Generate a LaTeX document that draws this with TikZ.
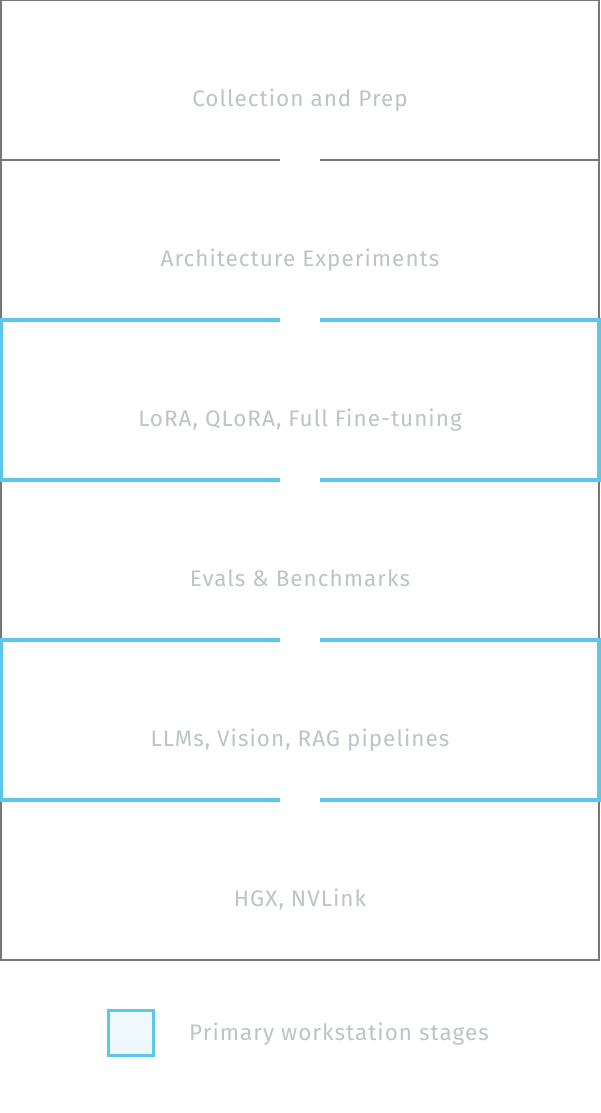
\documentclass[tikz,border=0pt]{standalone}
\usepackage{fontspec}
\setmainfont{Fira Sans}[LetterSpace=4.5]
\usetikzlibrary{positioning}
\definecolor{framegray}{RGB}{119,119,119}
\definecolor{stageblue}{RGB}{91,200,232}
\definecolor{labelgray}{RGB}{190,195,199}
\definecolor{legendfill}{RGB}{238,248,253}
\begin{document}
\begin{tikzpicture} [x=1pt, y=-1pt,
            stage_style/.style={rectangle, draw=framegray, line width=2pt, minimum width=598pt, minimum height=160pt, inner sep=0pt},
            primary_style/.style={stage_style, draw=stageblue, line width=3.5pt},
            label_style/.style={text=labelgray, font=\fontsize{22.5}{26}\selectfont, text height=15pt, text depth=4pt, inner sep=0pt},
            gap_style/.style={draw=white, line width=40pt}]
            \useasboundingbox (0,0) rectangle (600,1113);
            \node[stage_style] (s1) at (300,80) {};
            \node[stage_style] (s2) at (300,240) {};
            \node[stage_style] (s4) at (300,560) {};
            \node[stage_style] (s6) at (300,880) {};
            \node[primary_style] (s3) at (300,400) {};
            \node[primary_style] (s5) at (300,720) {};
            \draw[gap_style] ([yshift=5pt]s1.south) -- ([yshift=-5pt]s2.north);
            \draw[gap_style] ([yshift=5pt]s2.south) -- ([yshift=-5pt]s3.north);
            \draw[gap_style] ([yshift=5pt]s3.south) -- ([yshift=-5pt]s4.north);
            \draw[gap_style] ([yshift=5pt]s4.south) -- ([yshift=-5pt]s5.north);
            \draw[gap_style] ([yshift=5pt]s5.south) -- ([yshift=-5pt]s6.north);
            \node[label_style] (t1) at ([yshift=-21pt]s1.center) {Collection and Prep};
            \node[label_style] (t2) at ([yshift=-21pt]s2.center) {Architecture Experiments};
            \node[label_style] (t3) at ([yshift=-21pt]s3.center) {LoRA, QLoRA, Full Fine-tuning};
            \node[label_style] (t4) at ([yshift=-21pt]s4.center) {Evals \& Benchmarks};
            \node[label_style] (t5) at ([yshift=-21pt]s5.center) {LLMs, Vision, RAG pipelines};
            \node[label_style] (t6) at ([yshift=-21pt]s6.center) {HGX, NVLink};
            \node[rectangle, draw=stageblue, fill=legendfill, line width=3pt, minimum size=45pt, inner sep=0pt] (key) at (131,1033) {};
            \node[label_style, right=34pt of key, yshift=-2pt] (keytext) {Primary workstation stages};
        \end{tikzpicture}
\end{document}
